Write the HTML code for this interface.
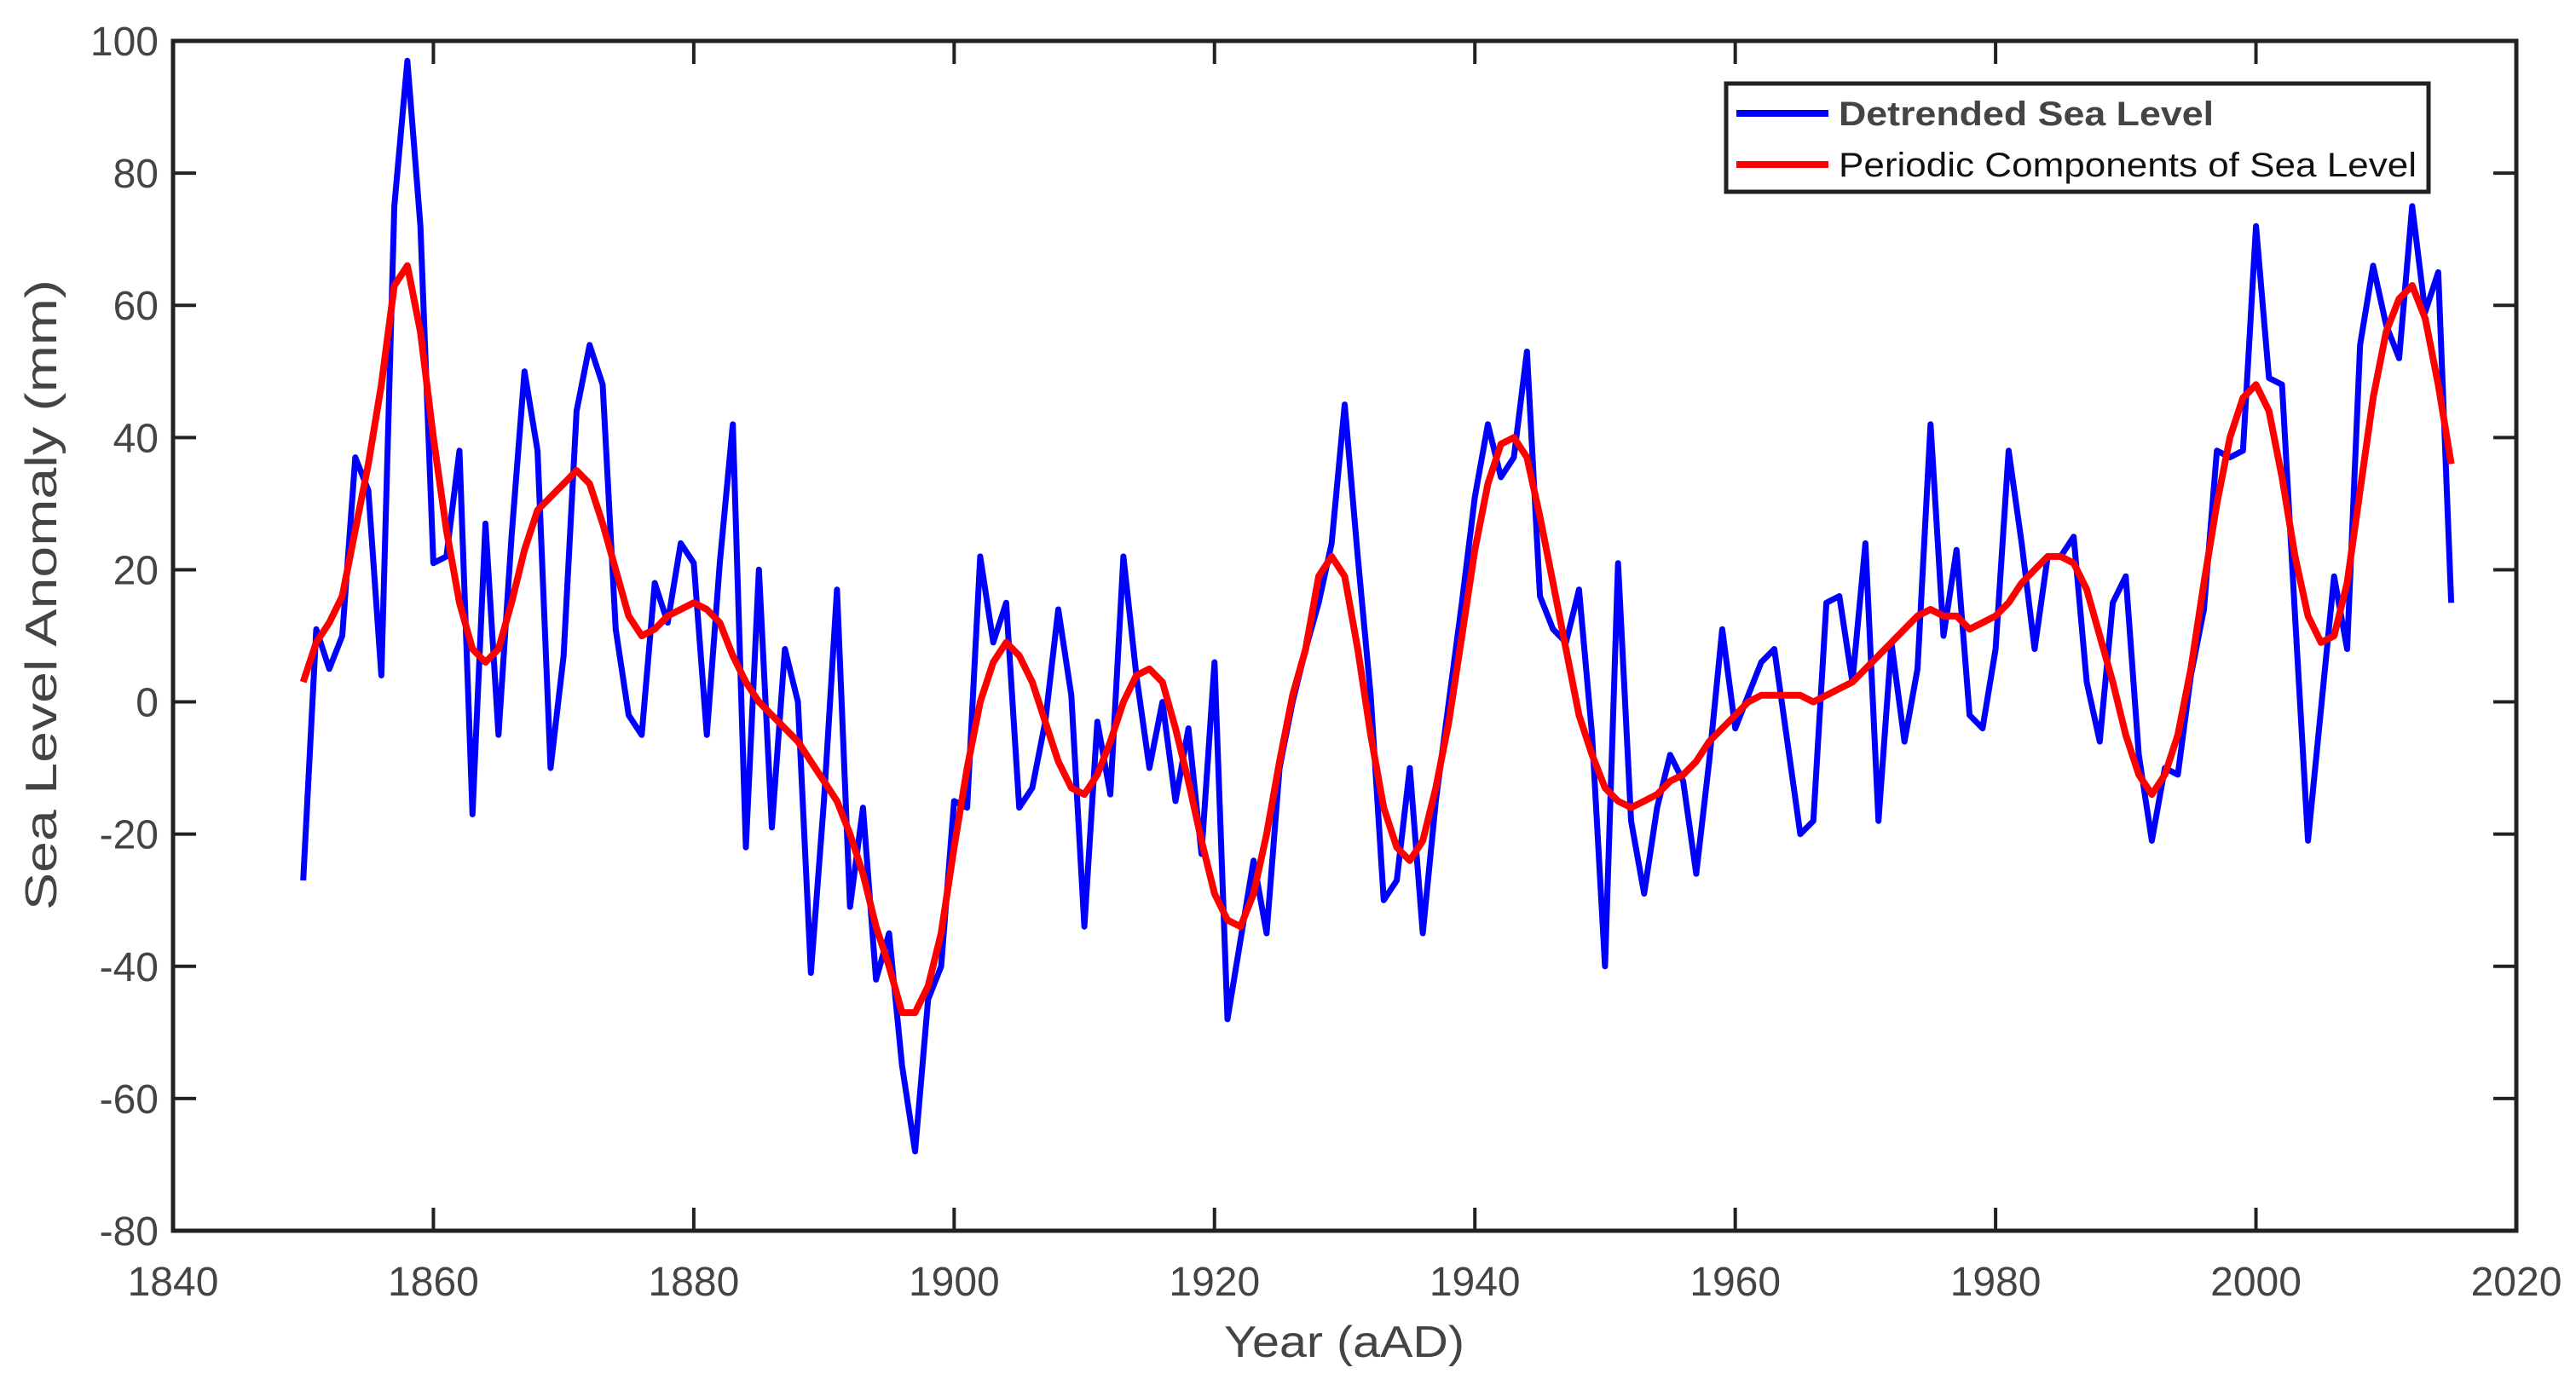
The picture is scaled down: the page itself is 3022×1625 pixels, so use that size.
<!DOCTYPE html>
<html><head><meta charset="utf-8"><style>
html,body{margin:0;padding:0;background:#fff;}
svg{display:block;font-family:"Liberation Sans",Arial,sans-serif;}
</style></head><body>
<svg id="chart" width="3022" height="1625" viewBox="0 0 3022 1625" xmlns="http://www.w3.org/2000/svg">
<rect width="3022" height="1625" fill="#fff"/>
<g id="series"></g>
<g id="axes"></g>
<g>
  <rect x="2025" y="98" width="824" height="127" fill="#fff" stroke="#222" stroke-width="5"/>
  <line x1="2037" y1="133" x2="2145" y2="133" stroke="#0000ff" stroke-width="8"/>
  <text x="2157" y="147" font-size="40" font-weight="bold" fill="#444" textLength="440" lengthAdjust="spacingAndGlyphs">Detrended Sea Level</text>
  <line x1="2037" y1="193" x2="2145" y2="193" stroke="#ff0000" stroke-width="8"/>
  <text x="2157" y="207" font-size="40" fill="#111" textLength="678" lengthAdjust="spacingAndGlyphs">Periodic Components of Sea Level</text>
</g>
<text transform="translate(66,698) rotate(-90)" text-anchor="middle" font-size="52" fill="#444" textLength="740" lengthAdjust="spacingAndGlyphs">Sea Level Anomaly (mm)</text>
<text x="1577" y="1592" text-anchor="middle" font-size="52" fill="#444" textLength="282" lengthAdjust="spacingAndGlyphs">Year (aAD)</text>
</svg>
<script>
const startYear = 1850;
const detrended = [-27,11,5,10,37,32,4,75,97,72,21,22,38,-17,27,-5,25,50,38,-10,7,44,54,48,11,-2,-5,18,12,24,21,-5,21,42,-22,20,-19,8,0,-41,-15,17,-31,-16,-42,-35,-55,-68,-45,-40,-15,-16,22,9,15,-16,-13,-3,14,1,-34,-3,-14,22,4,-10,0,-15,-4,-23,6,-48,-36,-24,-35,-10,0,8,15,24,45,22,1,-30,-27,-10,-35,-15,0,15,31,42,34,37,53,16,11,9,17,-5,-40,21,-18,-29,-16,-8,-12,-26,-9,11,-4,1,6,8,-6,-20,-18,15,16,3,24,-18,9,-6,5,42,10,23,-2,-4,8,38,24,8,22,22,25,3,-6,15,19,-8,-21,-10,-11,4,14,38,37,38,72,49,48,13,-21,-1,19,8,54,66,57,52,75,59,65,15];
const periodic = [3,9,12,16,26,36,48,63,66,56,40,26,15,8,6,8,15,23,29,31,33,35,33,27,20,13,10,11,13,14,15,14,12,7,3,0,-2,-4,-6,-9,-12,-15,-20,-26,-34,-40,-47,-47,-43,-35,-22,-10,0,6,9,7,3,-3,-9,-13,-14,-11,-6,0,4,5,3,-4,-12,-21,-29,-33,-34,-29,-20,-9,1,8,19,22,19,8,-5,-16,-22,-24,-21,-13,-3,10,23,33,39,40,37,28,18,8,-2,-8,-13,-15,-16,-15,-14,-12,-11,-9,-6,-4,-2,0,1,1,1,1,0,1,2,3,5,7,9,11,13,14,13,13,11,12,13,15,18,20,22,22,21,17,10,3,-5,-11,-14,-11,-5,5,18,30,40,46,48,44,34,22,13,9,10,18,32,46,56,61,63,58,48,36];
const xTicks = [1840,1860,1880,1900,1920,1940,1960,1980,2000,2020];
const yTicks = [100,80,60,40,20,0,-20,-40,-60,-80];

const L=203,R=2952,T=48,B=1444;
const xMin=1840,xMax=2020,yMin=-80,yMax=100;
function sx(v){return L+(v-xMin)/(xMax-xMin)*(R-L);}
function sy(v){return B-(v-yMin)/(yMax-yMin)*(B-T);}
const NS="http://www.w3.org/2000/svg";
function mk(tag,attrs,parent){const e=document.createElementNS(NS,tag);for(const k in attrs)e.setAttribute(k,attrs[k]);parent.appendChild(e);return e;}
const series=document.getElementById('series');
function line(vals,color,w,name){
  const d=vals.map((v,i)=>(i?'L':'M')+sx(startYear+i).toFixed(1)+','+sy(v).toFixed(1)).join('');
  const p=mk('path',{d:d,fill:'none',stroke:color,'stroke-width':w,'stroke-linejoin':'round'},series);
  
  
}
line(detrended,'#0000ff',7,'detrended-sea-level-line');
line(periodic,'#ff0000',8,'periodic-components-line');

const axes=document.getElementById('axes');
const frame=mk('rect',{x:L,y:T,width:R-L,height:B-T,fill:'none',stroke:'#222','stroke-width':5},axes);


xTicks.forEach(t=>{
  const x=sx(t);
  mk('line',{x1:x,y1:B,x2:x,y2:B-27,stroke:'#222','stroke-width':4},axes);
  mk('line',{x1:x,y1:T,x2:x,y2:T+27,stroke:'#222','stroke-width':4},axes);
  const tx=mk('text',{x:x,y:1520,'text-anchor':'middle','font-size':48,fill:'#444'},axes);
  tx.textContent=t;
  
  
});
yTicks.forEach(t=>{
  const y=sy(t);
  mk('line',{x1:L,y1:y,x2:L+27,y2:y,stroke:'#222','stroke-width':4},axes);
  mk('line',{x1:R,y1:y,x2:R-27,y2:y,stroke:'#222','stroke-width':4},axes);
  const tx=mk('text',{x:186,y:y+17,'text-anchor':'end','font-size':48,fill:'#444'},axes);
  tx.textContent=t;
  
  
});
</script>
</body></html>
